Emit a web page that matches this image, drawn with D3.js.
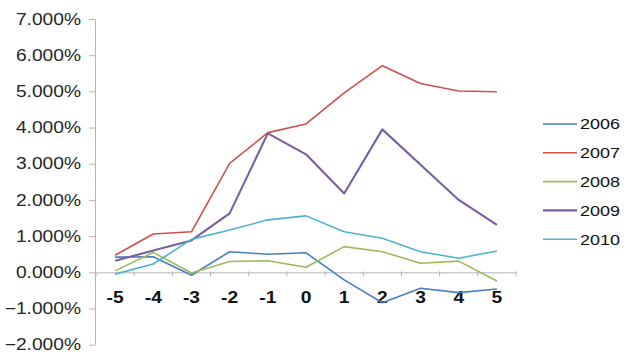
<!DOCTYPE html>
<html>
<head>
<meta charset="utf-8">
<script src="https://cdn.jsdelivr.net/npm/d3@7"></script>
<style>
  body { margin: 0; background: #fff; }
  text { font-family: Arial, "Liberation Sans", sans-serif; }
</style>
</head>
<body>
<div id="chart"></div>
<script>
// categories on the x axis (event window)
var days = ["-5", "-4", "-3", "-2", "-1", "0", "1", "2", "3", "4", "5"];

// series names
var years = ["2006", "2007", "2008", "2009", "2010"];

// values in percent
var y2006 = [0.42, 0.43, -0.08, 0.57, 0.50, 0.54, -0.21, -0.84, -0.44, -0.56, -0.46];
var y2007 = [0.47, 1.06, 1.12, 3.01, 3.86, 4.10, 4.96, 5.71, 5.22, 5.01, 4.99];
var y2008 = [0.04, 0.55, -0.02, 0.30, 0.32, 0.14, 0.71, 0.57, 0.25, 0.31, -0.24];
var y2009 = [0.32, 0.60, 0.88, 1.63, 3.84, 3.26, 2.18, 3.95, 2.97, 2.00, 1.31];
var y2010 = [-0.05, 0.23, 0.91, 1.17, 1.45, 1.56, 1.12, 0.94, 0.57, 0.39, 0.59];

// y tick values
var yTicks = [-2, -1, 0, 1, 2, 3, 4, 5, 6, 7];

var seriesValues = [y2006, y2007, y2008, y2009, y2010];
var colors = ["#4a7ebf", "#d0504c", "#9bbb59", "#7a5fa0", "#4bb4cf"];
var widths = [1.6, 1.6, 1.6, 2.1, 1.6];

// the picture looks stretched sideways, so text gets stretched too
var stretch = 1.2;

var width = 636, height = 357;

var svg = d3.select("#chart")
    .append("svg")
    .attr("width", width)
    .attr("height", height);

svg.append("rect")
    .attr("width", width)
    .attr("height", height)
    .attr("fill", "#fff");

// scales
var x = d3.scaleBand()
    .domain(days)
    .range([96, 516]);

var y = d3.scaleLinear()
    .domain([-2, 7])
    .range([344.7, 19]);

// Y axis
var yAxis = svg.append("g")
    .attr("transform", "translate(95,0)")
    .call(d3.axisLeft(y)
        .tickValues(yTicks)
        .tickSize(6)
        .tickSizeOuter(0)
        .tickFormat(function(d) { return d3.format(".3f")(d) + "%"; }));

yAxis.select(".domain").attr("stroke", "#b5b5b5");
yAxis.selectAll(".tick line").attr("stroke", "#b5b5b5");
yAxis.selectAll(".tick text")
    .attr("x", -14 / stretch)
    .attr("transform", "scale(" + stretch + ",1)")
    .attr("fill", "#262626")
    .style("font-size", "16px");

// X axis sits on the zero line
var xAxis = svg.append("g")
    .attr("transform", "translate(0," + y(0) + ")")
    .call(d3.axisBottom(x)
        .tickSize(0)
        .tickPadding(19));

xAxis.select(".domain").attr("stroke", "#b5b5b5");
xAxis.selectAll(".tick text")
    .attr("transform", "scale(" + stretch + ",1)")
    .attr("fill", "#111")
    .style("font-size", "16px")
    .style("font-weight", "bold");

// small tick marks between categories
xAxis.selectAll(".sep")
    .data(days.concat(["end"]))
    .enter().append("line")
    .attr("class", "sep")
    .attr("x1", function(d, i) { return x.range()[0] + i * x.bandwidth(); })
    .attr("x2", function(d, i) { return x.range()[0] + i * x.bandwidth(); })
    .attr("y1", -1)
    .attr("y2", 4)
    .attr("stroke", "#b5b5b5");

// lines
var line = d3.line()
    .x(function(d, i) { return x(days[i]) + x.bandwidth() / 2; })
    .y(function(d) { return y(d); });

svg.append("g")
    .selectAll("path")
    .data(seriesValues)
    .enter()
    .append("path")
    .attr("d", line)
    .attr("fill", "none")
    .attr("stroke", function(d, i) { return colors[i]; })
    .attr("stroke-width", function(d, i) { return widths[i]; })
    .attr("stroke-linejoin", "round");

// legend
var legend = svg.append("g")
    .selectAll("g")
    .data(years)
    .enter()
    .append("g")
    .attr("transform", function(d, i) { return "translate(543," + (124 + i * 28.8) + ")"; });

legend.append("line")
    .attr("x1", 0)
    .attr("x2", 34)
    .attr("stroke", function(d, i) { return colors[i]; })
    .attr("stroke-width", function(d, i) { return widths[i]; });

legend.append("text")
    .attr("x", 37 / stretch)
    .attr("dy", "0.36em")
    .attr("transform", "scale(" + stretch + ",1)")
    .attr("fill", "#111")
    .style("font-size", "15px")
    .text(function(d) { return d; });
</script>
</body>
</html>
